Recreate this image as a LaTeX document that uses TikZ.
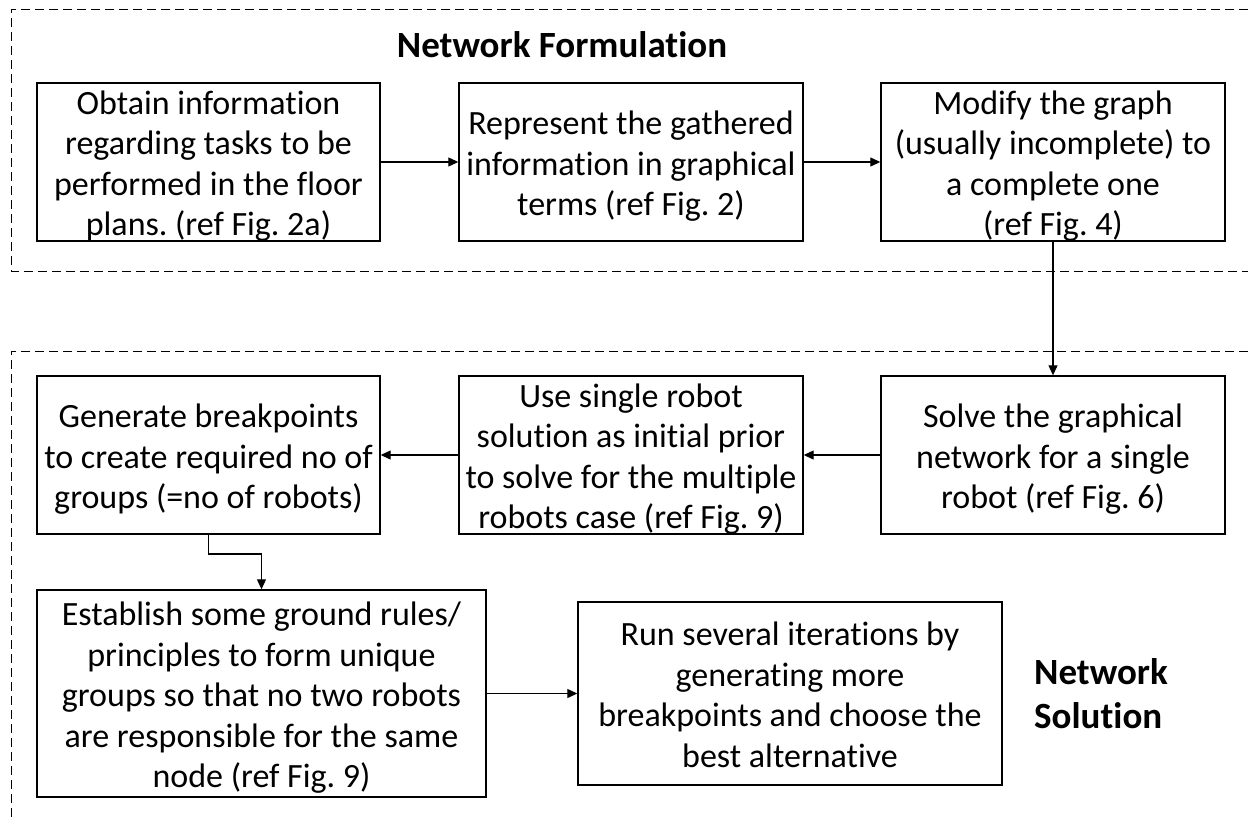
\documentclass[tikz,border=0pt]{standalone}
\usepackage{fontspec}
\setmainfont{Carlito}[Ligatures=NoCommon]
\usetikzlibrary{arrows.meta}
\newcommand{\boxtext}[1]{\raisebox{-5pt}[\height][\depth]{\begin{tabular}{@{}c@{}}#1\end{tabular}}}
\begin{document}
\frenchspacing
\begin{tikzpicture}[x=1pt,y=-1pt,
  stepbox/.style={draw=black, line width=1.4pt, inner xsep=0pt, inner ysep=-5pt,
    font=\fontsize{34}{40.5}\selectfont\frenchspacing},
  conn/.style={line width=1.1pt, -{Triangle[length=10pt,width=9pt]}},
  frame/.style={line width=1pt, dash pattern=on 9pt off 5pt},
  title/.style={font=\fontsize{37}{44}\selectfont\bfseries, align=center}]
\useasboundingbox (0,0) rectangle (1248,822);
% frames
\draw[frame] (1248,9) -- (11,9) -- (11,271) -- (1248,271);
\draw[frame] (1248,351) -- (11,351) -- (11,822);
\node[title] (t1) at (562,45) {Network Formulation};
\node[title, align=left] (t2) at (1101,694) {Network\\Solution};
% top row
\node[stepbox, minimum width=343pt, minimum height=158pt] (b1) at (208.5,162)
  {\boxtext{Obtain information\\regarding tasks to be\\performed in the floor\\plans. (ref Fig. 2a)}};
\node[stepbox, minimum width=344pt, minimum height=158pt] (b2) at (631,162)
  {\boxtext{Represent the gathered\\information in graphical\\terms (ref Fig. 2)}};
\node[stepbox, minimum width=344pt, minimum height=158pt] (b3) at (1053,162)
  {\boxtext{Modify the graph\\(usually incomplete) to\\a complete one\\(ref Fig. 4)}};
% middle row
\node[stepbox, minimum width=343pt, minimum height=158pt] (b6) at (208.5,455)
  {\boxtext{Generate breakpoints\\to create required no of\\groups (=no of robots)}};
\node[stepbox, minimum width=344pt, minimum height=158pt] (b5) at (631,455)
  {\boxtext{Use single robot\\solution as initial prior\\to solve for the multiple\\robots case (ref Fig. 9)}};
\node[stepbox, minimum width=344pt, minimum height=158pt] (b4) at (1053,455)
  {\boxtext{Solve the graphical\\network for a single\\robot (ref Fig. 6)}};
% bottom row
\node[stepbox, minimum width=449pt, minimum height=207pt] (b7) at (261.5,693.5)
  {\boxtext{Establish some ground rules/\\principles to form unique\\groups so that no two robots\\are responsible for the same\\node (ref Fig. 9)}};
\node[stepbox, minimum width=424pt, minimum height=183pt] (b8) at (790,693.5)
  {\boxtext{Run several iterations by\\generating more\\breakpoints and choose the\\best alternative}};
% connectors
\draw[conn] (b1.east) -- (b2.west);
\draw[conn] (b2.east) -- (b3.west);
\draw[conn] (b3.south) -- (b4.north);
\draw[conn] (b4.west) -- (b5.east);
\draw[conn] (b5.west) -- (b6.east);
\coordinate (e1) at (208.5,554);
\coordinate (e2) at (261.5,554);
\draw[conn] (b6.south) -- (e1) -- (e2) -- (b7.north);
\draw[conn] (b7.east |- b8.west) -- (b8.west);
\end{tikzpicture}
\end{document}
